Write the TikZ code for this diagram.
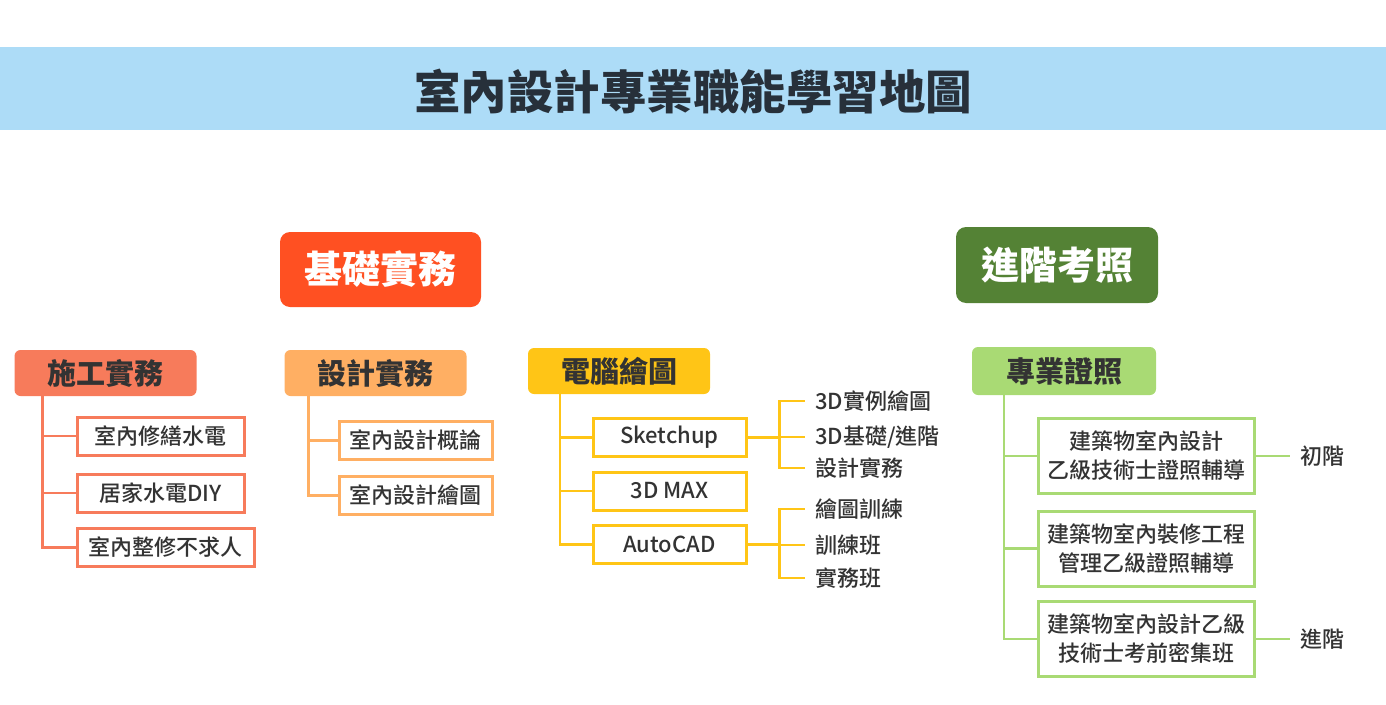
\documentclass[tikz,border=0pt]{standalone}
\usepackage{fontspec}
\newfontfamily\cjk{Noto Sans CJK TC}
\newfontfamily\cjkm{Noto Sans CJK TC Medium}
\definecolor{band}{HTML}{ADDCF7}
\definecolor{ink}{HTML}{27303A}
\definecolor{txt}{HTML}{333333}
\definecolor{redB}{HTML}{FF5022}
\definecolor{greenB}{HTML}{548235}
\definecolor{coral}{HTML}{F77B5B}
\definecolor{peach}{HTML}{FFAF63}
\definecolor{gold}{HTML}{FFC516}
\definecolor{lime}{HTML}{A9DA74}
\begin{document}
\begin{tikzpicture}[x=1pt,y=-1pt,
  big/.style={rounded corners=10pt,text=white,font=\cjk\bfseries\fontsize{38}{38}\selectfont},
  head/.style={rounded corners=6pt,text=txt,minimum width=182pt,minimum height=46pt,font=\cjk\bfseries\fontsize{29}{29}\selectfont},
  item/.style={draw,line width=3pt,fill=white,text=txt,minimum width=153pt,minimum height=38pt,inner sep=0pt,font=\cjkm\fontsize{22}{22}\selectfont},
  cert/.style={item,minimum width=216pt,minimum height=75pt,align=center,font=\cjkm\fontsize{22}{29}\selectfont},
  leaf/.style={anchor=west,inner xsep=10pt,text=txt,font=\cjkm\fontsize{22}{22}\selectfont},
  link/.style={line width=2.5pt}]
\useasboundingbox (0,0) rectangle (1386,704);
\fill[band] (0,47) rectangle (1386,130);
\node[text=ink,font=\cjk\bfseries\fontsize{46.5}{46.5}\selectfont] (T) at (693,92) {室內設計專業職能學習地圖};

\node[big,fill=redB,minimum width=201pt,minimum height=75pt] (K) at (380.5,269.5) {基礎實務};
\node[big,fill=greenB,minimum width=202pt,minimum height=76pt] (J) at (1057,265) {進階考照};

% construction
\node[head,fill=coral] (A) at (105.5,373) {施工實務};
\node[item,draw=coral,minimum width=167pt] (A1) at (160.5,436) {室內修繕水電};
\node[item,draw=coral,minimum width=167pt] (A2) at (160.5,493) {居家水電DIY};
\node[item,draw=coral,minimum width=177pt] (A3) at (165.5,547.5) {室內整修不求人};
\foreach \c in {A1,A2,A3}
  \draw[link,coral] ([xshift=28pt]A.south west) |- (\c.west);

% design
\node[head,fill=peach] (B) at (375.5,373) {設計實務};
\node[item,draw=peach] (B1) at (415.5,440.5) {室內設計概論};
\node[item,draw=peach] (B2) at (415.5,495.5) {室內設計繪圖};
\foreach \c in {B1,B2}
  \draw[link,peach] ([xshift=24pt]B.south west) |- (\c.west);

% computer drawing
\node[head,fill=gold] (C) at (619,371) {電腦繪圖};
\node[item,draw=gold] (C1) at (669.5,437.5) {Sketchup};
\node[item,draw=gold] (C2) at (669.5,491) {3D MAX};
\node[item,draw=gold] (C3) at (669.5,544.5) {AutoCAD};
\foreach \c in {C1,C2,C3}
  \draw[link,gold] ([xshift=32pt]C.south west) |- (\c.west);

\node[leaf] (S1) at (805,401) {3D實例繪圖};
\node[leaf] (S2) at (805,437) {3D基礎/進階};
\node[leaf] (S3) at (805,468) {設計實務};
\foreach \c in {S1,S2,S3}
  \draw[link,gold] (C1.east) -- ++(32,0) |- (\c.west);
\node[leaf] (U1) at (805,509) {繪圖訓練};
\node[leaf] (U2) at (805,545) {訓練班};
\node[leaf] (U3) at (805,578) {實務班};
\foreach \c in {U1,U2,U3}
  \draw[link,gold] (C3.east) -- ++(32,0) |- (\c.west);

% licences
\node[head,fill=lime,minimum width=184pt,minimum height=48pt] (D) at (1064,371) {專業證照};
\node[cert,draw=lime] (D1) at (1146,456) {建築物室內設計\\乙級技術士證照輔導};
\node[cert,draw=lime] (D2) at (1146,548.5) {建築物室內裝修工程\\管理乙級證照輔導};
\node[cert,draw=lime] (D3) at (1146,639) {建築物室內設計乙級\\技術士考前密集班};
\foreach \c in {D1,D2,D3}
  \draw[link,lime] ([xshift=32pt]D.south west) |- (\c.west);

\node[leaf] (L1) at (1290,456) {初階};
\node[leaf] (L2) at (1290,639) {進階};
\draw[link,lime] (D1.east) -- (L1.west);
\draw[link,lime] (D3.east) -- (L2.west);
\end{tikzpicture}
\end{document}
